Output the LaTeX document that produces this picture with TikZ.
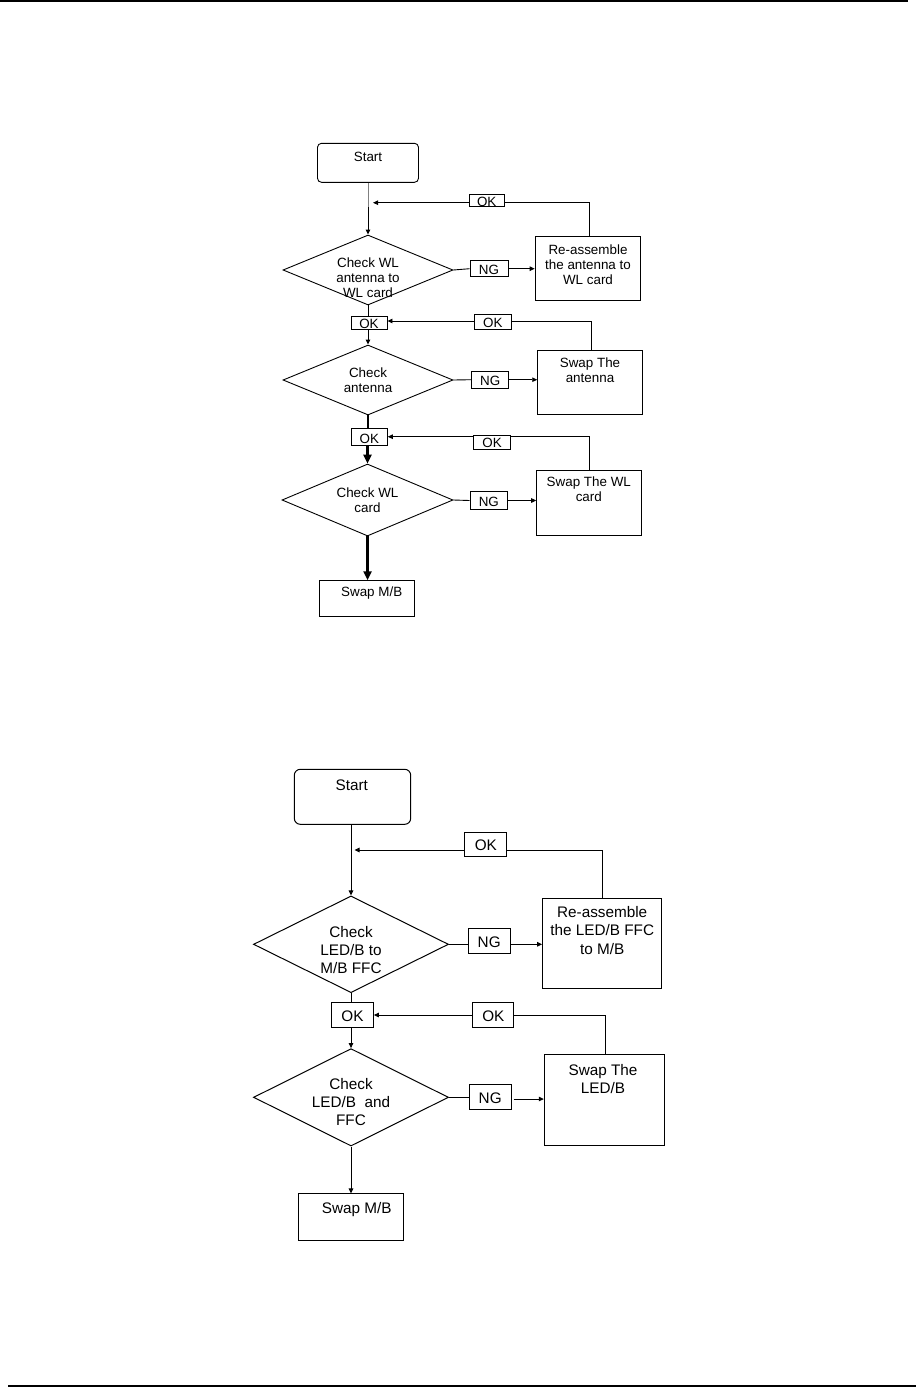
\documentclass[tikz,border=0pt]{standalone}
\usepackage{fontspec}
\setmainfont{Liberation Sans}
\usetikzlibrary{shapes.geometric,arrows.meta}
\tikzset{
  px/.style={x=1pt,y=-1pt},
  box/.style={draw=black,fill=white,rectangle,inner sep=0pt,line width=#1},
  box/.default=0.9pt,
  dia/.style={draw=black,diamond,inner sep=0pt,line width=#1},
  dia/.default=0.9pt,
  tag/.style={draw=black,fill=white,rectangle,inner sep=0pt,line width=#1},
  tag/.default=0.9pt,
  ftop/.style={font=\fontsize{13.4}{15}\selectfont,align=center,inner sep=0pt},
  fbot/.style={font=\fontsize{15.3}{18.2}\selectfont,align=center,inner sep=0pt},
  conn/.style={draw=black,line width=#1,-{Triangle[length=5pt,width=4.5pt]}},
  conn/.default=0.9pt,
  bigconn/.style={draw=black,line width=#1,-{Triangle[length=9pt,width=8pt]}},
  plain/.style={draw=black,line width=#1},
  plain/.default=0.9pt,
}
\begin{document}
\begin{tikzpicture}[px]
\useasboundingbox (0,0) rectangle (916,1387);
% page rules
\coordinate (tl) at (0,1);
\coordinate (tr) at (908,1);
\coordinate (bl) at (8,1385.5);
\coordinate (br) at (916,1385.5);
\draw[line width=2pt] (tl) -- (tr);
\draw[line width=2pt] (bl) -- (br);

%================ TOP CHART ================
\node[box,rounded corners=4pt,minimum width=101pt,minimum height=39pt] (start1) at (368,162.8) {};
\node[ftop] (start1t) at (368,157) {Start};

\node[dia,minimum width=170pt,minimum height=70pt] (d1) at (368,270) {};
\node[ftop] (d1t) at (368,278) {Check WL\\antenna to\\WL card};

\node[box,minimum width=105.7pt,minimum height=64pt] (re1) at (588,268) {};
\node[ftop] (re1t) at (588,264.5) {Re-assemble\\the antenna to\\WL card};

\node[tag,minimum width=38pt,minimum height=16pt] (ng1) at (489,268.7) {};
\node[ftop] (ng1t) at (489,269.5) {NG};

\node[tag,minimum width=35pt,minimum height=12pt] (ok1) at (486.7,200.5) {};
\node[ftop] (ok1t) at (486.7,201.5) {OK};

\node[tag,minimum width=36pt,minimum height=13.5pt] (okm1) at (369,322.7) {};
\node[ftop] (okm1t) at (369,324) {OK};

\node[tag,minimum width=37.7pt,minimum height=15pt] (ok2) at (492.8,321.5) {};
\node[ftop] (ok2t) at (492.8,322.5) {OK};

\node[dia,minimum width=170pt,minimum height=70pt] (d2) at (368,380) {};
\node[ftop] (d2t) at (368,380) {Check\\antenna};

\node[tag,minimum width=37pt,minimum height=17pt] (ng2) at (490.2,379.7) {};
\node[ftop] (ng2t) at (490.2,381) {NG};

\node[box,minimum width=104.6pt,minimum height=64.3pt] (sw1) at (590,382.2) {};
\node[ftop] (sw1t) at (590,370.5) {Swap The\\antenna};

\node[tag,minimum width=36pt,minimum height=16.6pt] (okm2) at (369.3,437) {};
\node[ftop] (okm2t) at (369.3,439) {OK};

\node[tag,minimum width=37.4pt,minimum height=14pt] (ok3) at (492,442.3) {};
\node[ftop] (ok3t) at (492,443) {OK};

\node[dia,minimum width=171pt,minimum height=72pt] (d3) at (367.5,500) {};
\node[ftop] (d3t) at (367.5,500.5) {Check WL\\card};

\node[tag,minimum width=37.7pt,minimum height=17.6pt] (ng3) at (488.8,500.5) {};
\node[ftop] (ng3t) at (488.8,502) {NG};

\node[box,minimum width=104.3pt,minimum height=65pt] (sw2) at (588.8,502.5) {};
\node[ftop] (sw2t) at (588.8,489.7) {Swap The WL\\card};

\node[box,minimum width=94.7pt,minimum height=36pt] (mb1) at (366.7,598.7) {};
\node[ftop] (mb1t) at (371.7,593.5) {Swap M/B};

% connectors top
\coordinate (j1) at (368,202.7);
\coordinate (r1) at (589.3,202.7);
\draw[plain=0.9pt,draw=gray] (start1.south) -- (368,207);
\draw[conn] (368,207) -- (d1.north);
\draw[conn] (re1.north -| r1) -- (r1) -- ([xshift=5pt]j1);
\draw[plain] (d1.east) -- (ng1.west);
\draw[conn] (ng1.east) -- (ng1.east -| re1.west);
\draw[plain] (d1.south) -- (d1.south |- okm1.north);
\coordinate (r2) at (591,321);
\draw[conn] (sw1.north -| r2) -- (r2) -- (r2 -| okm1.east);
\draw[conn] (okm1.south -| d2.north) -- (d2.north);
\draw[plain] (d2.east) -- (ng2.west);
\draw[conn] (ng2.east) -- (ng2.east -| sw1.west);
\draw[plain=2.2pt] (d2.south) -- (d2.south |- okm2.north);
\coordinate (r3) at (589.3,436.7);
\draw[conn] (sw2.north -| r3) -- (r3) -- (r3 -| okm2.east);
\draw[bigconn=2.2pt] (okm2.south -| d3.north) -- (d3.north);
\draw[plain] (d3.east) -- (ng3.west);
\draw[conn] (ng3.east) -- (ng3.east -| sw2.west);
\draw[bigconn=2.7pt] (d3.south) -- (d3.south |- mb1.north);
% redraw label tags above lines
\node[tag,minimum width=35pt,minimum height=12pt] at (ok1) {};
\node[ftop] at (ok1t) {OK};
\node[tag,minimum width=37.7pt,minimum height=15pt] at (ok2) {};
\node[ftop] at (ok2t) {OK};
\node[tag,minimum width=37.4pt,minimum height=14pt] at (ok3) {};
\node[ftop] at (ok3t) {OK};

%================ BOTTOM CHART ================
\node[box=1pt,rounded corners=6pt,minimum width=116.4pt,minimum height=55pt] (start2) at (352.5,796.8) {};
\node[fbot] (start2t) at (351.7,785) {Start};

\node[tag=1pt,minimum width=41.7pt,minimum height=24pt] (ok4) at (485.8,844.7) {};
\node[fbot] (ok4t) at (485.8,845.5) {OK};

\node[dia=1pt,minimum width=195pt,minimum height=96.7pt] (d4) at (351,944.3) {};
\node[fbot] (d4t) at (351,950) {Check\\LED/B to\\M/B FFC};

\node[tag=1pt,minimum width=41.7pt,minimum height=25pt] (ng4) at (489.2,940.8) {};
\node[fbot] (ng4t) at (489.2,942) {NG};

\node[box=1pt,minimum width=119pt,minimum height=90pt] (re2) at (602.2,943.3) {};
\node[fbot] (re2t) at (602.2,930.5) {Re-assemble\\the LED/B FFC\\to M/B};

\node[tag=1pt,minimum width=41.7pt,minimum height=24.6pt] (okm4) at (352.5,1015) {};
\node[fbot] (okm4t) at (352.5,1016) {OK};

\node[tag=1pt,minimum width=41.3pt,minimum height=24.6pt] (ok5) at (493.3,1015) {};
\node[fbot] (ok5t) at (493.3,1016) {OK};

\node[dia=1pt,minimum width=195pt,minimum height=97.4pt] (d5) at (351,1097.3) {};
\node[fbot] (d5t) at (351,1102) {Check\\LED/B~~and\\FFC};

\node[tag=1pt,minimum width=41.7pt,minimum height=25pt] (ng5) at (490.2,1096.8) {};
\node[fbot] (ng5t) at (490.2,1098) {NG};

\node[box=1pt,minimum width=119.7pt,minimum height=90.7pt] (sw3) at (604.2,1099.7) {};
\node[fbot] (sw3t) at (603,1079) {Swap The\\LED/B};

\node[box=1pt,minimum width=105pt,minimum height=46.7pt] (mb2) at (350.8,1217.3) {};
\node[fbot] (mb2t) at (356.7,1210) {Swap M/B};

% connectors bottom
\coordinate (j4) at (351,850);
\coordinate (r4) at (602.7,850);
\draw[conn=1pt] (start2.south -| d4.north) -- (d4.north);
\draw[conn=1pt] (re2.north -| r4) -- (r4) -- ([xshift=3.5pt]j4);
\draw[plain=1pt] (d4.east) -- (ng4.west |- d4.east);
\draw[conn=1pt] (ng4.east |- d4.east) -- (d4.east -| re2.west);
\draw[plain=1pt] (d4.south) -- (d4.south |- okm4.north);
\coordinate (r5) at (605,1015);
\draw[conn=1pt] (sw3.north -| r5) -- (r5) -- (r5 -| okm4.east);
\draw[conn=1pt] (okm4.south -| d5.north) -- (d5.north);
\draw[plain=1pt] (d5.east) -- (ng5.west |- d5.east);
\draw[conn=1pt] ([xshift=2pt]ng5.east |- 0,1099) -- (sw3.west |- 0,1099);
\draw[conn=1pt] (d5.south) -- (d5.south |- mb2.north);
% label tags above lines
\node[tag=1pt,minimum width=41.7pt,minimum height=24pt] at (ok4) {};
\node[fbot] at (ok4t) {OK};
\node[tag=1pt,minimum width=41.3pt,minimum height=24.6pt] at (ok5) {};
\node[fbot] at (ok5t) {OK};
\end{tikzpicture}
\end{document}
